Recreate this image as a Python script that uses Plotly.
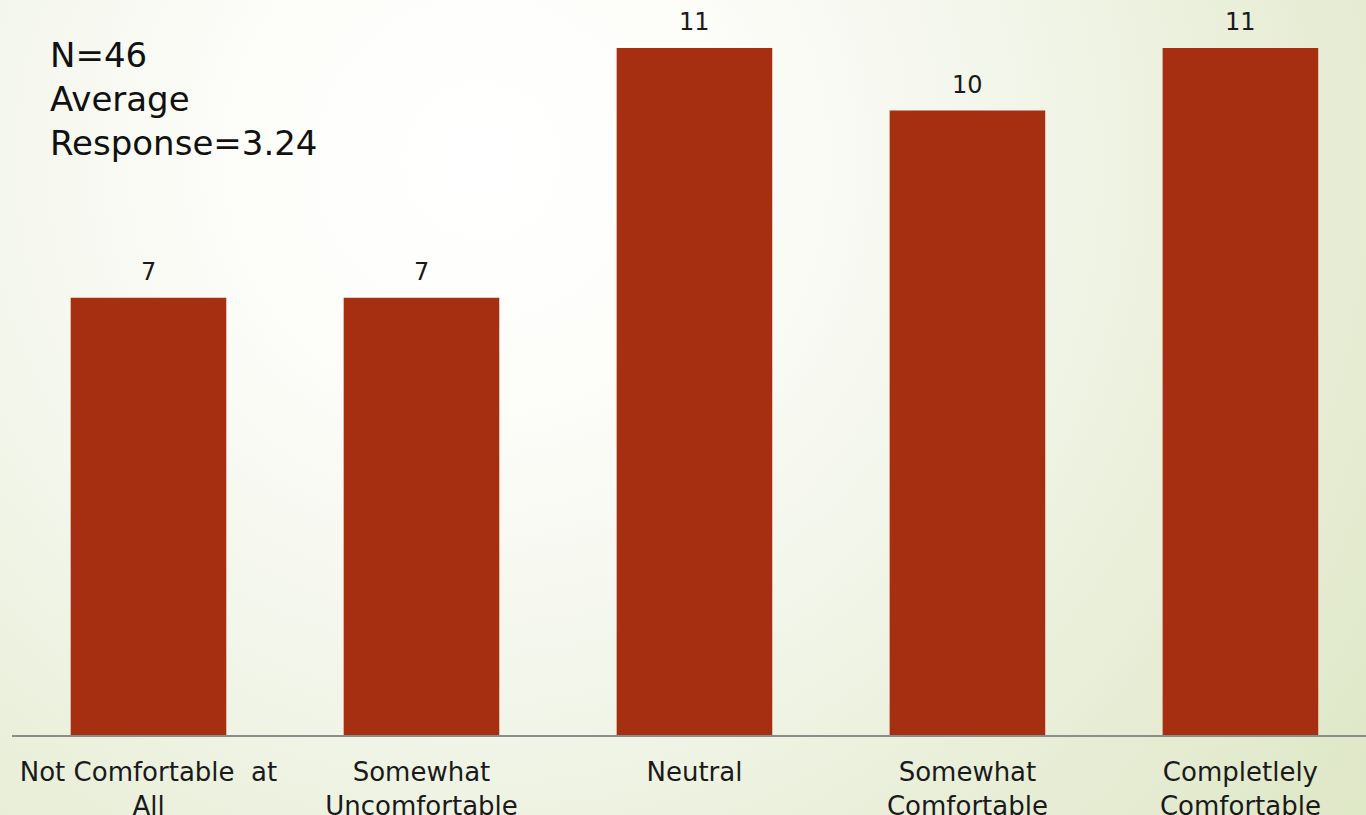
import base64
import plotly.graph_objects as go

categories = ["Not Comfortable  at<br>All", "Somewhat<br>Uncomfortable", "Neutral",
              "Somewhat<br>Comfortable", "Completlely<br>Comfortable"]
counts = [7, 7, 11, 10, 11]
summary_text = "N=46<br>Average<br>Response=3.24"

W, H = 1366, 815
ML, MR, MT, MB = 12, 0, 0, 80

FONT = "DejaVu Sans"
BAR_COLOR = "#a52f10"

svg = f'''<svg xmlns="http://www.w3.org/2000/svg" width="{W}" height="{H}" viewBox="0 0 {W} {H}" preserveAspectRatio="none">
<defs><radialGradient id="g" gradientUnits="userSpaceOnUse" cx="480" cy="160" r="1150">
<stop offset="0" stop-color="#ffffff"/>
<stop offset="0.2" stop-color="#fdfdfa"/>
<stop offset="0.45" stop-color="#f3f6eb"/>
<stop offset="0.7" stop-color="#e8eed7"/>
<stop offset="1" stop-color="#dde6c4"/>
</radialGradient></defs>
<rect x="0" y="0" width="{W}" height="{H}" fill="url(#g)"/></svg>'''
bg_src = "data:image/svg+xml;base64," + base64.b64encode(svg.encode()).decode()

pw, ph = W - ML - MR, H - MT - MB

fig = go.Figure()
fig.add_trace(go.Bar(x=categories, y=counts, marker=dict(color=BAR_COLOR, line=dict(width=0)),
                     hoverinfo="skip"))

for c, v in zip(categories, counts):
    fig.add_annotation(x=c, y=v, text=str(v), showarrow=False, yanchor="bottom",
                       yshift=10, font=dict(family=FONT, size=24, color="#1a1a1a"))

fig.add_annotation(xref="paper", yref="paper", x=(48 - ML) / pw, y=1 - (33 - MT) / ph,
                   xanchor="left", yanchor="top", align="left", showarrow=False,
                   text=summary_text, font=dict(family=FONT, size=34, color="#111111"))

fig.add_layout_image(dict(source=bg_src, xref="paper", yref="paper",
                          x=-ML / pw, y=1 + MT / ph, sizex=W / pw, sizey=H / ph,
                          xanchor="left", yanchor="top", sizing="stretch", layer="below"))

fig.update_layout(
    width=W, height=H, autosize=False, margin=dict(l=ML, r=MR, t=MT, b=MB),
    paper_bgcolor="#eef2e0", plot_bgcolor="rgba(0,0,0,0)",
    bargap=0.43, showlegend=False,
    xaxis=dict(range=[-0.5, 4.46], showline=True, linecolor="#8c8c8c", linewidth=2,
               showgrid=False, zeroline=False, ticks="outside", ticklen=13,
               tickcolor="rgba(0,0,0,0)", automargin=False,
               tickfont=dict(family=FONT, size=26, color="#1a1a1a")),
    yaxis=dict(range=[0, 11.77], visible=False, showgrid=False, zeroline=False,
               automargin=False),
)

fig.write_html(
    "out.html", config={"displayModeBar": False, "responsive": False},
    post_script=("document.documentElement.style.margin='0';"
                 "document.documentElement.style.background='#e6ecd3';"
                 "document.body.style.margin='0';document.body.style.padding='0';"
                 "document.body.style.overflow='hidden';"
                 "var d=document.getElementById('{plot_id}');d.style.position='fixed';"
                 "d.style.top='0px';d.style.left='0px';"))
